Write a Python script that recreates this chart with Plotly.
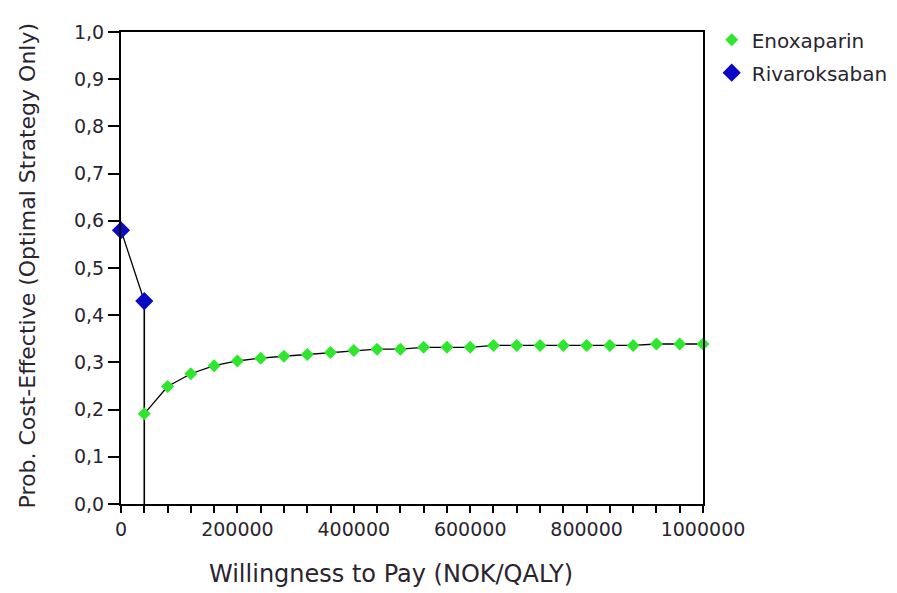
import plotly.graph_objects as go

# willingness to pay grid (NOK/QALY)
wtp_enox = [40000, 80000, 120000, 160000, 200000, 240000, 280000, 320000, 360000,
            400000, 440000, 480000, 520000, 560000, 600000, 640000, 680000, 720000,
            760000, 800000, 840000, 880000, 920000, 960000, 1000000]
prob_enox = [0.191, 0.249, 0.276, 0.293, 0.303, 0.309, 0.313, 0.317, 0.321,
             0.325, 0.328, 0.328, 0.332, 0.332, 0.332, 0.336, 0.336, 0.336,
             0.336, 0.336, 0.336, 0.336, 0.339, 0.339, 0.339]

wtp_riva = [0, 40000]
prob_riva = [0.58, 0.43]

x_tickvals = [0, 200000, 400000, 600000, 800000, 1000000]
x_ticktext = ["0", "200000", "400000", "600000", "800000", "1000000"]
y_tickvals = [0, 0.1, 0.2, 0.3, 0.4, 0.5, 0.6, 0.7, 0.8, 0.9, 1.0]
y_ticktext = ["0,0", "0,1", "0,2", "0,3", "0,4", "0,5", "0,6", "0,7", "0,8", "0,9", "1,0"]

FONT = "DejaVu Sans"
TXT = "#2a2430"
GREEN = "#2fe62f"
BLUE = "#0a0ac4"

fig = go.Figure()

# connecting lines (black)
fig.add_trace(go.Scatter(x=wtp_enox, y=prob_enox, mode="lines",
                         line=dict(color="black", width=1.3),
                         showlegend=False, hoverinfo="skip", cliponaxis=False))
fig.add_trace(go.Scatter(x=wtp_riva, y=prob_riva, mode="lines",
                         line=dict(color="black", width=1.3),
                         showlegend=False, hoverinfo="skip", cliponaxis=False))
# drop line where Rivaroksaban stops being optimal
fig.add_trace(go.Scatter(x=[wtp_riva[-1], wtp_riva[-1]], y=[prob_riva[-1], 0], mode="lines",
                         line=dict(color="black", width=1.6),
                         showlegend=False, hoverinfo="skip", cliponaxis=False))

fig.add_trace(go.Scatter(x=wtp_enox, y=prob_enox, mode="markers", name="Enoxaparin",
                         legendgroup="enox",
                         marker=dict(symbol="diamond", size=10, color=GREEN),
                         cliponaxis=False))
fig.add_trace(go.Scatter(x=wtp_riva, y=prob_riva, mode="markers", name="Rivaroksaban",
                         legendgroup="riva",
                         marker=dict(symbol="diamond", size=14, color=BLUE),
                         cliponaxis=False))

axis_common = dict(showline=True, linecolor="black", linewidth=2, mirror=True,
                   showgrid=False, zeroline=False, ticks="outside",
                   tickcolor="black", tickwidth=1.5,
                   tickfont=dict(family=FONT, size=19, color=TXT))

fig.update_xaxes(range=[0, 1000000], tickvals=x_tickvals, ticktext=x_ticktext,
                 ticklen=7,
                 minor=dict(dtick=40000, tick0=0, ticks="outside", ticklen=7,
                            tickcolor="black", tickwidth=1.5),
                 **axis_common)
fig.update_yaxes(range=[0, 1], tickvals=y_tickvals, ticktext=y_ticktext,
                 ticklen=11, **axis_common)

fig.add_annotation(text="Willingness to Pay (NOK/QALY)", xref="paper", yref="paper",
                   x=0.464, y=-0.182, showarrow=False,
                   font=dict(family=FONT, size=24, color=TXT))
fig.add_annotation(text="Prob. Cost-Effective (Optimal Strategy Only)", xref="paper",
                   yref="paper", x=-0.185, y=0.505, textangle=-90, showarrow=False,
                   font=dict(family=FONT, size=22, color=TXT))

# page body has an 8px margin, so margins are pulled in to compensate
fig.update_layout(
    width=897, height=593,
    margin=dict(l=113, r=202, t=18, b=97),
    plot_bgcolor="white", paper_bgcolor="white",
    legend=dict(x=1.015, y=1.025, xanchor="left", yanchor="top",
                font=dict(family=FONT, size=20, color=TXT),
                itemsizing="trace", tracegroupgap=4, bgcolor="rgba(0,0,0,0)"),
)

fig.write_html("out.html")
